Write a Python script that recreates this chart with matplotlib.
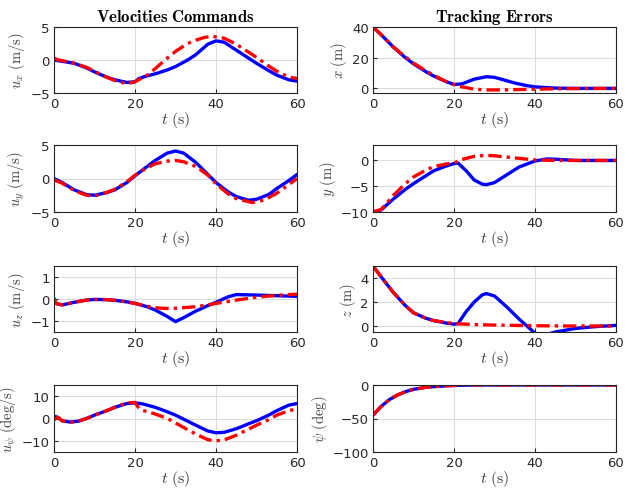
import numpy as np
import matplotlib.pyplot as plt

plt.rcParams['mathtext.fontset'] = 'cm'
plt.rcParams['font.family'] = 'DejaVu Sans'

# ---- data (t in s) ----
# velocity commands: blue = applied, red = reference
ux_t_b = [0, 2, 5, 8, 10, 13, 15, 18, 20, 21, 23, 25, 28, 30, 33, 35, 38, 40, 42, 45, 48, 50, 53, 55, 58, 60]
ux_b = [0, -0.2, -0.5, -1.2, -1.8, -2.6, -3.0, -3.4, -3.3, -2.8, -2.4, -2.1, -1.5, -1.0, 0.0, 0.8, 2.4, 2.9, 2.7, 1.5, 0.3, -0.5, -1.6, -2.3, -3.0, -3.2]
ux_t_r = [0, 1, 2, 5, 8, 10, 13, 15, 18, 20, 23, 25, 28, 30, 33, 35, 37, 39, 42, 45, 48, 50, 53, 55, 58, 60]
ux_r = [0.3, 0.0, -0.1, -0.5, -1.1, -1.7, -2.6, -3.1, -3.6, -3.3, -2.3, -1.3, 0.3, 1.3, 2.5, 3.0, 3.4, 3.6, 3.3, 2.4, 1.2, 0.4, -0.9, -1.7, -2.6, -2.8]

uy_t_b = [0, 2, 5, 8, 10, 13, 15, 18, 20, 23, 25, 28, 30, 32, 35, 38, 40, 43, 45, 48, 50, 53, 55, 58, 60]
uy_b = [0, -0.6, -1.7, -2.4, -2.5, -2.1, -1.7, -0.6, 0.4, 1.8, 2.7, 3.8, 4.1, 3.8, 2.4, 0.6, -0.6, -2.0, -2.7, -3.25, -3.1, -2.4, -1.5, -0.3, 0.6]
uy_t_r = [0, 2, 5, 8, 10, 13, 15, 18, 20, 23, 25, 28, 30, 32, 35, 38, 40, 43, 45, 49, 52, 55, 58, 60]
uy_r = [-0.2, -0.7, -1.8, -2.5, -2.6, -2.1, -1.6, -0.5, 0.5, 1.6, 2.2, 2.6, 2.7, 2.5, 1.8, 0.5, -0.8, -2.3, -3.0, -3.6, -3.2, -2.2, -0.9, 0.0]

uz_t_b = [0, 0.5, 2, 5, 8, 10, 13, 15, 18, 20, 23, 25, 28, 30, 32, 35, 38, 40, 43, 45, 50, 55, 60]
uz_b = [0, -0.2, -0.27, -0.15, -0.05, -0.02, -0.03, -0.06, -0.13, -0.2, -0.35, -0.5, -0.8, -1.03, -0.85, -0.55, -0.3, -0.15, 0.1, 0.2, 0.18, 0.15, 0.12]
uz_t_r = [0, 0.5, 2, 5, 8, 10, 13, 15, 18, 20, 23, 25, 28, 30, 33, 35, 38, 40, 45, 50, 55, 60]
uz_r = [0.05, -0.2, -0.27, -0.15, -0.05, -0.02, -0.03, -0.06, -0.13, -0.2, -0.33, -0.4, -0.43, -0.42, -0.38, -0.35, -0.27, -0.2, -0.05, 0.08, 0.17, 0.22]

ups_t_b = [0, 1, 2, 4, 6, 8, 10, 13, 15, 18, 20, 22, 25, 28, 30, 33, 35, 38, 40, 42, 45, 48, 50, 53, 55, 58, 60]
ups_b = [1, 0.5, -1, -1.6, -1.2, 0, 1.5, 3.5, 5, 6.7, 7, 6.5, 5, 3, 1.5, -1.2, -3, -5.6, -6.4, -6.2, -4.6, -2.4, -1, 1.5, 3.5, 6, 6.7]
ups_t_r = [0, 1, 2, 4, 6, 8, 10, 13, 15, 18, 20, 21, 22, 25, 28, 30, 33, 35, 38, 40, 42, 45, 48, 50, 53, 55, 58, 60]
ups_r = [-0.5, 0.5, -1, -1.7, -1.3, 0, 1.5, 3.5, 5, 7, 7.2, 4.5, 3.6, 2, 0, -2, -5, -7, -9.5, -10, -9.6, -7.5, -4.8, -3, -0.5, 1.5, 3.5, 4.3]

# tracking errors: blue = actual, red = reference model
ex_t_b = [0, 2, 5, 8, 10, 13, 15, 18, 20, 22, 25, 28, 30, 33, 35, 38, 40, 45, 50, 60]
ex_b = [40, 35, 27, 20, 16, 11, 8, 4.5, 2.5, 3, 6, 7.6, 7.2, 5, 3.5, 1.8, 1, 0.2, 0, 0]
ex_t_r = [0, 2, 5, 8, 10, 13, 15, 18, 20, 22, 25, 28, 32, 40, 50, 60]
ex_r = [40, 35, 27, 20.5, 16.5, 11.5, 8.5, 4.5, 2.5, 1, -0.5, -1, -1, -0.5, -0.1, 0]

ey_t_b = [0, 2, 5, 8, 10, 13, 15, 18, 20, 21, 23, 25, 27, 28, 30, 33, 36, 40, 43, 46, 50, 60]
ey_b = [-10, -9.6, -7.5, -5.6, -4.5, -3, -2, -1.1, -0.6, -0.5, -2, -3.8, -4.6, -4.7, -4.3, -2.8, -1.3, -0.1, 0.3, 0.2, 0, 0]
ey_t_r = [0, 2, 5, 8, 10, 13, 15, 18, 20, 22, 25, 28, 30, 35, 40, 45, 60]
ey_r = [-10, -9.5, -6.8, -4.5, -3.2, -1.9, -1.2, -0.7, -0.5, 0.2, 0.8, 1.0, 0.9, 0.5, 0.1, 0, 0]

ez_t_b = [0, 2, 5, 8, 10, 13, 15, 18, 20, 21, 23, 25, 27, 28, 30, 33, 36, 38, 40, 42, 45, 50, 55, 60]
ez_b = [5, 4.1, 2.8, 1.7, 1.1, 0.65, 0.45, 0.25, 0.15, 0.2, 1.2, 2.0, 2.6, 2.7, 2.5, 1.6, 0.6, 0.0, -0.6, -0.8, -0.5, -0.2, -0.05, 0.05]
ez_t_r = [0, 2, 5, 8, 10, 13, 15, 20, 25, 30, 40, 50, 60]
ez_r = [5, 4.1, 2.8, 1.7, 1.1, 0.65, 0.45, 0.2, 0.12, 0.08, 0.02, 0, 0]

eps_t_b = [0, 2, 4, 6, 8, 10, 13, 15, 18, 20, 25, 30, 60]
eps_b = [-45, -32, -22, -15, -10, -6.5, -3.5, -2.5, -1.2, -0.7, 0, 0, 0]
eps_t_r = [0, 2, 4, 6, 8, 10, 13, 15, 18, 20, 23, 25, 30, 60]
eps_r = [-45, -32, -22, -15, -10, -6.5, -3.5, -2.5, -1.2, -0.6, 0.5, 0.3, 0, 0]

left_panels = [
    (ux_t_b, ux_b, ux_t_r, ux_r, r'$u_x\ \mathrm{(m/s)}$', (-5, 5), [-5, 0, 5]),
    (uy_t_b, uy_b, uy_t_r, uy_r, r'$u_y\ \mathrm{(m/s)}$', (-5, 5), [-5, 0, 5]),
    (uz_t_b, uz_b, uz_t_r, uz_r, r'$u_z\ \mathrm{(m/s)}$', (-1.5, 1.5), [-1, 0, 1]),
    (ups_t_b, ups_b, ups_t_r, ups_r, r'$u_\psi\ \mathrm{(deg/s)}$', (-15, 15), [-10, 0, 10]),
]
right_panels = [
    (ex_t_b, ex_b, ex_t_r, ex_r, r'$x\ \mathrm{(m)}$', (-3, 40), [0, 20, 40]),
    (ey_t_b, ey_b, ey_t_r, ey_r, r'$y\ \mathrm{(m)}$', (-10, 3), [-10, -5, 0]),
    (ez_t_b, ez_b, ez_t_r, ez_r, r'$z\ \mathrm{(m)}$', (-0.5, 5), [0, 2, 4]),
    (eps_t_b, eps_b, eps_t_r, eps_r, r'$\psi\ \mathrm{(deg)}$', (-100, 0), [-100, -50, 0]),
]

fig = plt.figure(figsize=(6.25, 4.89), dpi=100)
W, H = 625, 489
rows_px = [(28, 94), (146, 213), (267, 333), (386, 453)]
cols_px = [(54, 297), (373, 616)]

for ci, panels in enumerate([left_panels, right_panels]):
    for ri, (tb, yb, tr, yr, lab, ylim, yt) in enumerate(panels):
        x0, x1 = cols_px[ci]
        y0, y1 = rows_px[ri]
        ax = fig.add_axes([x0 / W, 1 - y1 / H, (x1 - x0) / W, (y1 - y0) / H])
        ax.plot(tb, yb, color='#0000ff', lw=2.4, solid_capstyle='round')
        ax.plot(tr, yr, color='#ff0000', lw=2.4, ls=(0, (4, 1.5, 1, 1.5)))
        ax.set_xlim(0, 60)
        ax.set_ylim(*ylim)
        ax.set_xticks([0, 20, 40, 60])
        ax.set_yticks(yt)
        ax.grid(True, color='#dcdcdc', lw=0.8)
        ax.set_axisbelow(True)
        ax.tick_params(labelsize=9.5, colors='#262626', direction='in', length=3, pad=3)
        for s in ax.spines.values():
            s.set_color('#262626')
            s.set_linewidth(0.8)
        ax.set_xlabel(r'$t\ \mathrm{(s)}$', fontsize=11.5, color='#404040', labelpad=-1)
        ax.set_ylabel(lab, fontsize=10.5, color='#404040', labelpad=2)
        if ri == 0:
            ttl = r'$\mathbf{Velocities\ Commands}$' if ci == 0 else r'$\mathbf{Tracking\ Errors}$'
            ax.set_title(ttl, fontsize=12, pad=4)

fig.savefig('out.png', dpi=100)
